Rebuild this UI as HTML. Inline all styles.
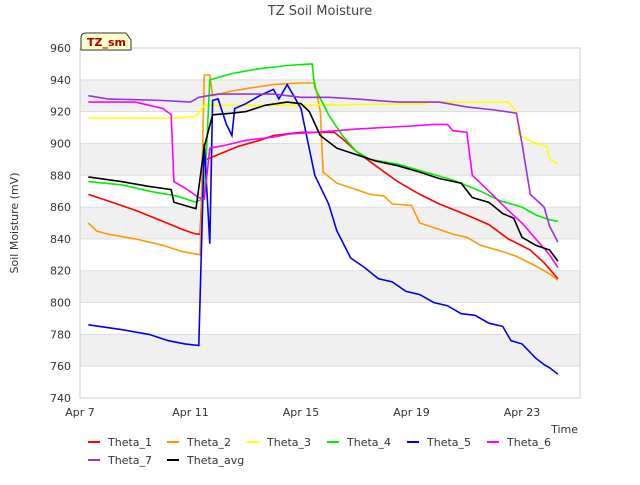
<!DOCTYPE html>
<html><head><meta charset="utf-8"><style>
body{margin:0;background:#fff;font-family:"Liberation Sans","DejaVu Sans",sans-serif;}
svg text{font-family:"DejaVu Sans","Liberation Sans",sans-serif;}
</style></head><body>
<svg id="c" width="640" height="480" viewBox="0 0 640 480"></svg>
<script>
const xTickLabels=["Apr 7","Apr 11","Apr 15","Apr 19","Apr 23"];
const xTickDays=[7,11,15,19,23];
const yTicks=[740,760,780,800,820,840,860,880,900,920,940,960];
const seriesNames=["Theta_1","Theta_2","Theta_3","Theta_4","Theta_5","Theta_6","Theta_7","Theta_avg"];
const seriesColors=["#ff0000","#ff9900","#ffff00","#00ee00","#0000ee","#ff00ff","#9933dd","#000000"];
const theta1=[[7.3,868],[8,864],[9,858],[10,851],[10.7,846],[11.2,843],[11.35,843],[11.45,889],[12,893],[12.7,898],[13.5,902],[14,905],[15,907],[16.2,907],[16.5,903],[17,895],[17.7,886],[18.5,876],[19.3,868],[20,862],[21,855],[21.8,849],[22.5,840],[23.3,833],[23.8,825],[24.3,815]];
const theta2=[[7.3,850],[7.6,845],[8,843],[9,840],[10,836],[10.7,832],[11.35,830],[11.5,943],[11.7,943],[11.8,930],[12.5,933],[13.2,935],[14,937],[15,938],[15.5,938],[15.7,920],[15.8,882],[16.3,875],[17,871],[17.5,868],[18,867],[18.3,862],[19,861],[19.3,850],[20,846],[20.5,843],[21,841],[21.5,836],[22.3,832],[22.8,829],[23.5,823],[24,818],[24.3,814]];
const theta3=[[7.3,916],[10.5,916],[11.2,917],[11.5,924],[15,924],[19.5,925],[19.6,926],[22.5,926],[22.8,920],[22.9,905],[23.5,900],[23.9,898],[24,890],[24.3,887]];
const theta4=[[7.3,876],[8.5,874],[9.5,870],[10.5,867],[11.2,863],[11.5,866],[11.7,940],[12.5,944],[13.5,947],[14.5,949],[15.4,950],[15.5,935],[16,918],[16.5,905],[17,895],[17.5,890],[18.5,887],[19.5,882],[20.5,877],[21.5,870],[22.2,864],[23,860],[23.5,855],[24,852],[24.3,851]];
const theta5=[[7.3,786],[8.5,783],[9.5,780],[10.2,776],[10.8,774],[11.3,773],[11.5,900],[11.7,837],[11.8,927],[12,928],[12.3,912],[12.5,905],[12.6,922],[13,925],[13.5,930],[14,934],[14.2,928],[14.5,937],[15,922],[15.2,905],[15.5,880],[16,862],[16.3,845],[16.8,828],[17.3,822],[17.8,815],[18.3,813],[18.8,807],[19.3,805],[19.8,800],[20.3,798],[20.8,793],[21.3,792],[21.8,787],[22.3,785],[22.6,776],[23,774],[23.5,765],[23.8,761],[24,759],[24.3,755]];
const theta6=[[7.3,926],[9,926],[10,922],[10.3,918],[10.4,876],[10.8,872],[11.3,866],[11.5,865],[11.7,897],[12.3,899],[13,902],[14,904],[14.6,906],[15.5,907],[16.3,908],[17,909],[18,910],[19,911],[19.8,912],[20.3,912],[20.5,908],[21,907],[21.2,880],[21.8,870],[22.5,858],[23,850],[23.5,840],[24,830],[24.3,822]];
const theta7=[[7.3,930],[8,928],[10,927],[11,926],[11.3,929],[12,931],[14,931],[15,929],[16,929],[17,928],[18.5,926],[20,926],[21,923],[22,921],[22.8,919],[23,900],[23.3,868],[23.8,860],[24,848],[24.3,838]];
const thetaAvg=[[7.3,879],[8.5,876],[9.5,873],[10.3,871],[10.4,863],[11,860],[11.2,859],[11.5,898],[11.8,918],[12.5,919],[13,920],[13.7,924],[14.5,926],[15,925],[15.3,920],[15.7,905],[16.3,897],[17,893],[17.7,889],[18.5,886],[19.3,882],[20,878],[20.8,875],[21.2,866],[21.8,863],[22.3,856],[22.7,853],[23,841],[23.5,836],[24,833],[24.3,826]];
const seriesData=[theta1,theta2,theta3,theta4,theta5,theta6,theta7,thetaAvg];

const NS="http://www.w3.org/2000/svg";
const svg=document.getElementById('c');
const L=80,R=580,T=48,B=398;
const xS=d=>L+(d-7)*(301-80)/8;
const yS=v=>B-(v-740)*(B-T)/220;
function mk(tag,attrs,parent){const e=document.createElementNS(NS,tag);for(const k in attrs)e.setAttribute(k,attrs[k]);(parent||svg).appendChild(e);return e;}

// bands
for(let v=760;v<960;v+=40){
  const b=mk('rect',{x:L,y:yS(v+20),width:R-L,height:yS(v)-yS(v+20),fill:'#f0f0f0'});
  
  
}
yTicks.forEach(v=>{
  const g=mk('line',{x1:L,x2:R,y1:yS(v),y2:yS(v),stroke:'#dddddd','stroke-width':1});
  
  
  const t=mk('text',{x:L-9,y:yS(v)+4,'text-anchor':'end','font-size':11,fill:'#333'});
  t.textContent=v;
  
  
});
const frame=mk('rect',{x:L,y:T,width:R-L,height:B-T,fill:'none',stroke:'#cccccc'});


xTickDays.forEach((d,i)=>{
  const t=mk('text',{x:xS(d),y:416,'text-anchor':'middle','font-size':11,fill:'#333'});
  t.textContent=xTickLabels[i];
  
  
});
// series
seriesData.forEach((s,i)=>{
  const p=mk('polyline',{points:s.map(q=>xS(q[0]).toFixed(1)+','+yS(q[1]).toFixed(1)).join(' '),fill:'none',stroke:seriesColors[i],'stroke-width':1.6});
  
  
});
// titles
let t=mk('text',{x:320,y:15,'text-anchor':'middle','font-size':13,fill:'#444'});t.textContent='TZ Soil Moisture';


t=mk('text',{x:18,y:223,'text-anchor':'middle','font-size':11,fill:'#333',transform:'rotate(-90 18 223)'});t.textContent='Soil Moisture (mV)';


t=mk('text',{x:578,y:433,'text-anchor':'end','font-size':11,fill:'#333'});t.textContent='Time';


const tb=mk('path',{d:'M81,50 L81,38 Q81,33 86,33 L126,33 L131,40 L131,50 Z',fill:'#ffffcc',stroke:'#333'});


t=mk('text',{x:87,y:46,'font-size':11,'font-weight':'bold',fill:'#aa0000'});t.textContent='TZ_sm';


// legend
const lx=[88,167,247,327,407,487,88,167],ly=[442,442,442,442,442,442,460,460];
seriesNames.forEach((n,i)=>{
  const l=mk('line',{x1:lx[i],x2:lx[i]+12,y1:ly[i],y2:ly[i],stroke:seriesColors[i],'stroke-width':2});
  
  
  const tx=mk('text',{x:lx[i]+20,y:ly[i]+4,'font-size':11,fill:'#333'});tx.textContent=n;
  
  
});
</script>
</body></html>
